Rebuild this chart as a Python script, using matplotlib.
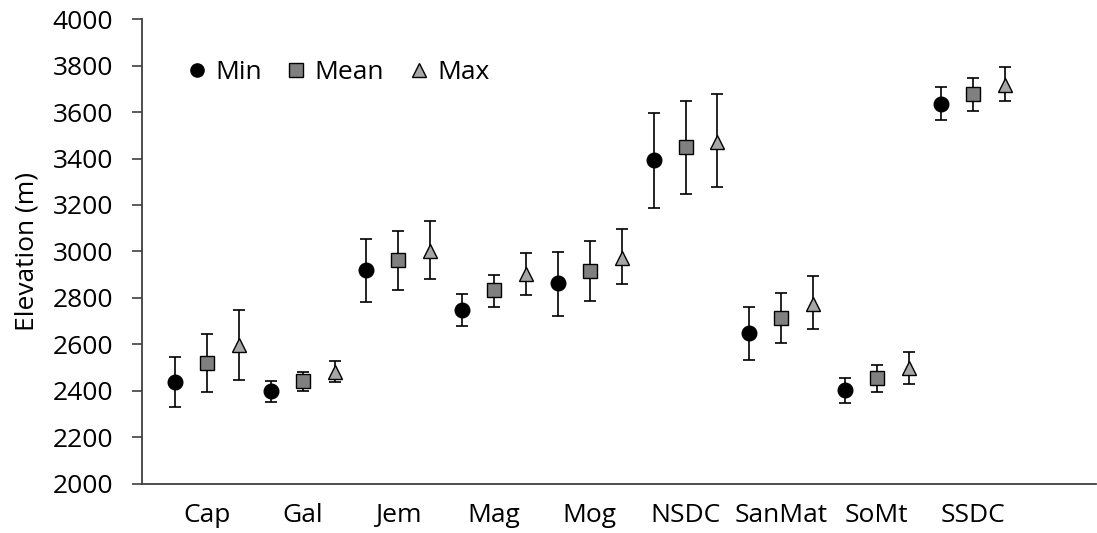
import matplotlib
matplotlib.use("Agg")
import matplotlib.pyplot as plt
from matplotlib.lines import Line2D
import numpy as np

plt.rcParams['font.family'] = ['Open Sans', 'DejaVu Sans']

categories = ["Cap", "Gal", "Jem", "Mag", "Mog", "NSDC", "SanMat", "SoMt", "SSDC"]

min_val = [2438, 2400, 2919, 2748, 2862, 3394, 2648, 2401, 3637]
min_hi  = [2546, 2443, 3054, 2818, 2996, 3598, 2761, 2456, 3707]
min_lo  = [2329, 2351, 2780, 2678, 2723, 3187, 2534, 2346, 3564]

mean_val = [2520, 2441, 2963, 2832, 2916, 3448, 2713, 2453, 3677]
mean_hi  = [2644, 2481, 3089, 2900, 3043, 3648, 2822, 2510, 3749]
mean_lo  = [2393, 2400, 2833, 2762, 2786, 3246, 2605, 2393, 3604]

max_val = [2596, 2480, 3002, 2902, 2973, 3473, 2773, 2496, 3716]
max_hi  = [2747, 2529, 3130, 2995, 3097, 3680, 2892, 2567, 3793]
max_lo  = [2447, 2437, 2883, 2813, 2860, 3277, 2665, 2429, 3648]

yticks = list(range(2000, 4001, 200))

FS = 19
W, H = 1097, 533
fig = plt.figure(figsize=(W / 100, H / 100), dpi=100)
ax = fig.add_axes([142 / W, (H - 483.5) / H, (1096 - 142) / W, (483.5 - 19.3) / H])

x = np.arange(len(categories))
off = 0.334
series = [
    (min_val, min_lo, min_hi, -off, 'o', 'black', 'Min'),
    (mean_val, mean_lo, mean_hi, 0.0, 's', '#808080', 'Mean'),
    (max_val, max_lo, max_hi, off, '^', '#a6a6a6', 'Max'),
]
handles = []
for vals, lo, hi, dx, mk, col, lab in series:
    v = np.array(vals)
    yerr = np.vstack([v - np.array(lo), np.array(hi) - v])
    ax.errorbar(x + dx, v, yerr=yerr, fmt='none', ecolor='black',
                elinewidth=1.2, capsize=4.3, capthick=1.2, zorder=2)
    ax.plot(x + dx, v, linestyle='none', marker=mk, markersize=10.5,
            markerfacecolor=col, markeredgecolor='black', markeredgewidth=1.0,
            zorder=3)
    handles.append(Line2D([], [], linestyle='none', marker=mk, markersize=9.5,
                          markerfacecolor=col, markeredgecolor='black',
                          markeredgewidth=1.0, label=lab))

ax.set_xlim((142 - 207) / 95.7, (1096 - 207) / 95.7)
ax.set_ylim(2000, 4000)
ax.set_yticks(yticks)
ax.set_yticklabels([str(t) for t in yticks], fontsize=FS)
ax.set_xticks(x)
ax.set_xticklabels(categories, fontsize=FS)
ax.tick_params(axis='x', length=0, pad=14)
ax.tick_params(axis='y', direction='out', length=7, width=1.2, color='#404040', pad=14)

for s in ['top', 'right']:
    ax.spines[s].set_visible(False)
for s in ['left', 'bottom']:
    ax.spines[s].set_linewidth(1.3)
    ax.spines[s].set_color('#404040')

ax.set_ylabel("Elevation (m)", fontsize=FS, labelpad=9)

leg = ax.legend(handles=handles, loc='center left',
                bbox_to_anchor=(189 / W, 1 - 72.7 / H), bbox_transform=fig.transFigure,
                ncol=3, frameon=False, fontsize=FS, handlelength=0.6,
                handletextpad=0.4, columnspacing=1.0, borderpad=0, borderaxespad=0)

fig.savefig("out.png", dpi=100)
